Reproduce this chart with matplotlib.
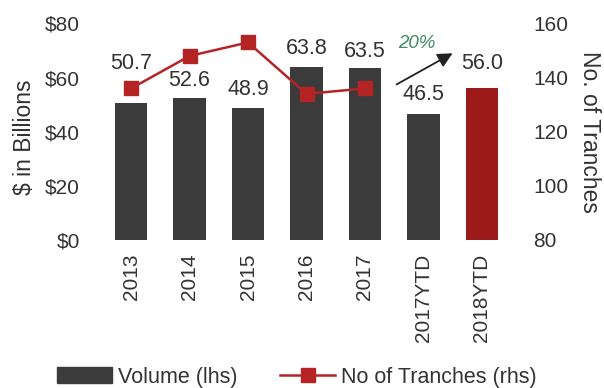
import matplotlib.pyplot as plt
from matplotlib.patches import Patch
from matplotlib.lines import Line2D

plt.rcParams['font.family'] = ['Liberation Sans', 'DejaVu Sans']

years = ['2013', '2014', '2015', '2016', '2017', '2017YTD', '2018YTD']
volume = [50.7, 52.6, 48.9, 63.8, 63.5, 46.5, 56.0]
tranches = [136, 148, 153, 134, 136]
bar_colors = ['#3b3b3b'] * 6 + ['#9c1a1a']
label_offsets = [28, 12, 13.3, 13.7, 12, 14.4, 18]  # points above bar top

fig = plt.figure(figsize=(6.04, 3.88), dpi=100)
ax = fig.add_axes([96 / 604, 1 - 240 / 388, (517 - 96) / 604, (240 - 23.5) / 388])

x = list(range(len(years)))
ax.bar(x, volume, width=0.55, color=bar_colors)
for i, v in enumerate(volume):
    ax.annotate(f'{v:.1f}', (i, v), xytext=(0, label_offsets[i]), textcoords='offset points',
                ha='center', va='center', fontsize=15.5, color='#333333')

ax.set_xlim(-0.6, 6.6)
ax.set_ylim(0, 80)
ax.set_yticks([0, 20, 40, 60, 80])
ax.set_yticklabels(['$0', '$20', '$40', '$60', '$80'])
ax.set_xticks(x)
ax.set_xticklabels(years, rotation=90, va='top', fontsize=15.5)
ax.tick_params(length=0, labelsize=15, colors='#333333')
ax.tick_params(axis='y', pad=11.5)
ax.tick_params(axis='x', pad=10)
for s in ax.spines.values():
    s.set_visible(False)
ax.set_ylabel('$ in Billions', fontsize=16.5, color='#333333', va='center')
ax.yaxis.set_label_coords(-0.171, 0.473)

ax2 = ax.twinx()
ax2.plot(x[:len(tranches)], tranches, color='#b52424', lw=1.8, marker='s', markersize=9.5)
ax2.set_ylim(80, 160)
ax2.set_yticks([80, 100, 120, 140, 160])
ax2.tick_params(length=0, labelsize=15, colors='#333333', pad=11.5)
for s in ax2.spines.values():
    s.set_visible(False)
ax2.set_ylabel('No. of Tranches', fontsize=16.5, color='#333333', rotation=270, va='center')
ax2.yaxis.set_label_coords(1.172, 0.5)

# growth arrow
ax.annotate('', xy=(5.54, 69.5), xytext=(4.5, 57),
            arrowprops=dict(arrowstyle='-|>', color='#222222', lw=1.3, mutation_scale=22))
ax.text(4.88, 72.6, '20%', fontsize=13.5, style='italic', color='#3d8a66', ha='center', va='center')

handles = [Patch(color='#3b3b3b'),
           Line2D([], [], color='#b52424', lw=1.8, marker='s', markersize=9.5)]
fig.legend(handles, ['Volume (lhs)', 'No of Tranches (rhs)'], ncol=2, frameon=False,
           loc='center left', bbox_to_anchor=(46 / 604, 1 - 377 / 388), borderpad=0,
           fontsize=15.5, handlelength=2.55, handletextpad=0.28, columnspacing=2.0,
           labelcolor='#333333')

fig.savefig('out.png', dpi=100)
